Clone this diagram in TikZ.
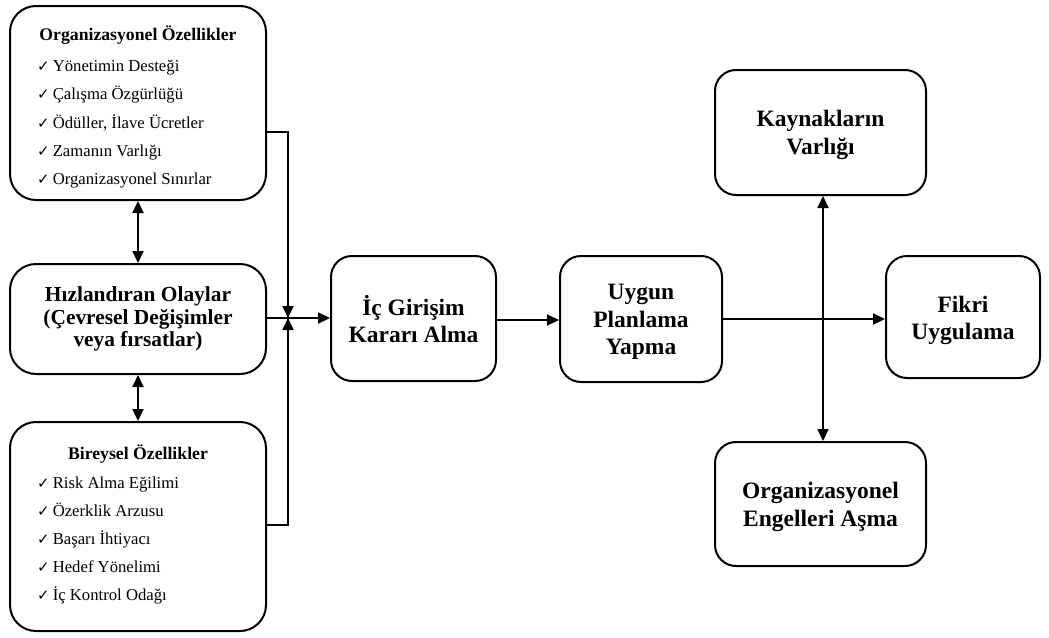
\documentclass[tikz,border=0pt]{standalone}
\usepackage{fontspec}
\setmainfont{Liberation Serif}
\newfontfamily\symfont{DejaVu Sans}
\usetikzlibrary{arrows.meta,calc}
\newcommand\chk{{\symfont\fontsize{15}{15}\selectfont ✓}\hspace{3pt}}
\tikzset{
  conn/.style={line width=2pt, -{Triangle[length=12pt,width=11pt]}},
  dconn/.style={line width=2pt, {Triangle[length=12pt,width=11pt]}-{Triangle[length=12pt,width=11pt]}},
  plain/.style={line width=2pt},
  lbox/.style={draw, line width=2pt, rounded corners=26pt, inner sep=0pt, minimum width=256pt, align=center},
  rbox/.style={draw, line width=2pt, rounded corners=21pt, inner sep=0pt},
  rtxt/.style={inner sep=0pt, align=center, font=\bfseries\fontsize{23.5}{27.5}\selectfont},
  ttl/.style={inner sep=0pt, anchor=base, font=\bfseries\fontsize{17.7}{19}\selectfont},
  itm/.style={inner sep=0pt, anchor=base west, font=\fontsize{16.7}{18}\selectfont},
}
\begin{document}
\begin{tikzpicture}[x=1pt,y=-1pt]
\useasboundingbox (0,0) rectangle (1049,637);
% left boxes
\node[lbox, minimum height=194pt] (org) at (138,103) {};
\node[lbox, minimum height=110pt, font=\bfseries\fontsize{21.4}{22.7}\selectfont] (hiz) at (138,319)
  {Hızlandıran Olaylar\\(Çevresel Değişimler\\veya fırsatlar)};
\node[lbox, minimum height=209pt] (bir) at (138,526.5) {};
% box 1 contents
\node[ttl] (orgt) at (138,40.7) {Organizasyonel Özellikler};
\node[itm] (o1) at (37,71.7) {\chk Yönetimin Desteği};
\node[itm] (o2) at (37,99.9) {\chk Çalışma Özgürlüğü};
\node[itm] (o3) at (37,128.1) {\chk Ödüller, İlave Ücretler};
\node[itm] (o4) at (37,156.3) {\chk Zamanın Varlığı};
\node[itm] (o5) at (37,184.5) {\chk Organizasyonel Sınırlar};
% box 3 contents
\node[ttl] (birt) at (138,459) {Bireysel Özellikler};
\node[itm] (b1) at (37,488) {\chk Risk Alma Eğilimi};
\node[itm] (b2) at (37,516) {\chk Özerklik Arzusu};
\node[itm] (b3) at (37,544) {\chk Başarı İhtiyacı};
\node[itm] (b4) at (37,572) {\chk Hedef Yönelimi};
\node[itm] (b5) at (37,600) {\chk İç Kontrol Odağı};
% right boxes
\node[rbox, minimum width=165pt, minimum height=125pt] (ic) at (413.5,318.5) {};
\node[rtxt] (ict) at ([yshift=-0.5pt]ic.center) {İç Girişim\\Kararı Alma};
\node[rbox, minimum width=162pt, minimum height=126pt] (uyg) at (641,319) {};
\node[rtxt] (uygt) at ([yshift=-3pt]uyg.center) {Uygun\\Planlama\\Yapma};
\node[rbox, minimum width=211pt, minimum height=125pt] (kay) at (820.5,132.5) {};
\node[rtxt] (kayt) at ([yshift=-2.5pt]kay.center) {Kaynakların\\Varlığı};
\node[rbox, minimum width=154pt, minimum height=122pt] (fik) at (963,317) {};
\node[rtxt] (fikt) at ([yshift=-3.5pt]fik.center) {Fikri\\Uygulama};
\node[rbox, minimum width=211pt, minimum height=124pt] (eng) at (820.5,504) {};
\node[rtxt] (engt) at ([yshift=-3pt]eng.center) {Organizasyonel\\Engelleri Aşma};
% junction
\coordinate (j) at ($(hiz.east)+(21,-1)$);
\draw[plain] ([yshift=-29pt]org.east) -| ($(j)+(0,-0.5)$);
\draw[conn] ($(j)+(0,-186)$) -- (j);
\draw[plain] ([yshift=1.5pt]bir.east) -| ($(j)+(0,0.5)$);
\draw[conn] ($(j)+(0,208)$) -- (j);
\draw[conn] (hiz.east |- j) -- (j -| ic.west);
% double arrows left
\draw[dconn] (org.south) -- (hiz.north);
\draw[dconn] (hiz.south) -- (bir.north);
% main flow
\draw[conn] ([yshift=-1.5pt]ic.east) -- ([yshift=-1.5pt]ic.east -| uyg.west);
\draw[conn] (uyg.east) -- (uyg.east -| fik.west);
\draw[dconn] ([xshift=2.5pt]kay.south) -- ([xshift=2.5pt]eng.north);
\end{tikzpicture}
\end{document}
